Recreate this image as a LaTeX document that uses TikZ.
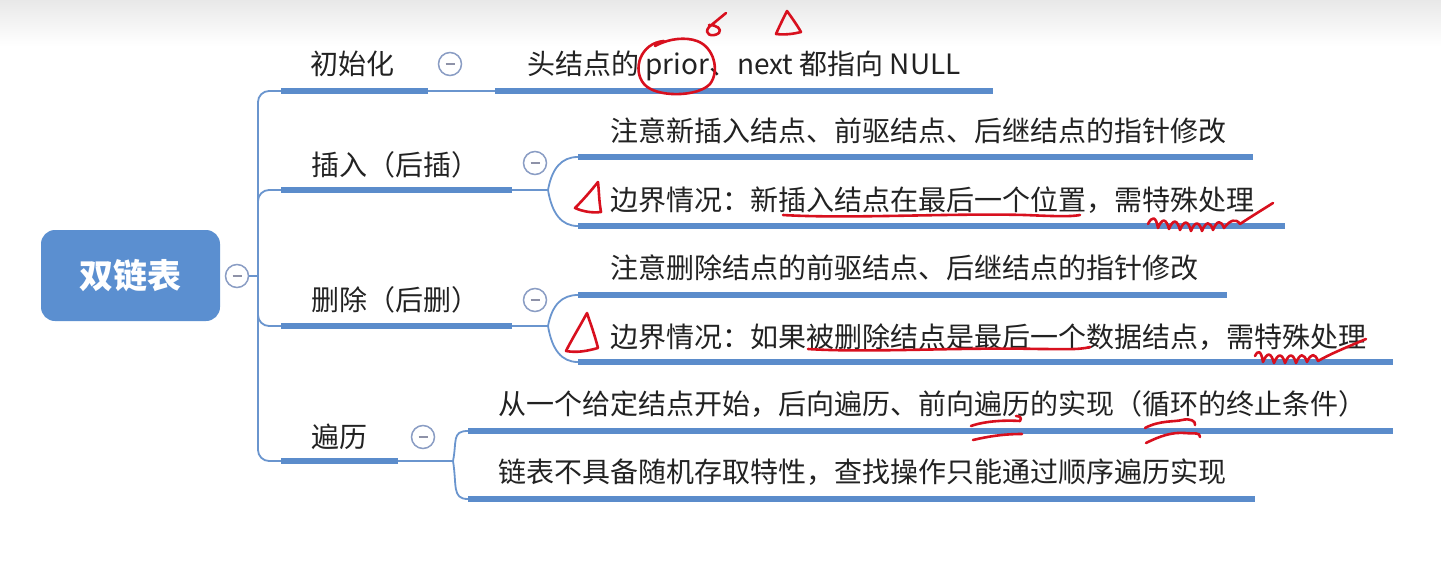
\documentclass[tikz,border=0pt]{standalone}
\usepackage{fontspec}
\setmainfont{Noto Sans CJK SC}
\usetikzlibrary{calc}
\definecolor{barblue}{HTML}{5B8CCB}
\definecolor{lineblue}{HTML}{6A95CE}
\definecolor{rootblue}{HTML}{5B8FD0}
\definecolor{circblue}{HTML}{8A9DC4}
\definecolor{minusgray}{HTML}{8E92A8}
\definecolor{txt}{HTML}{222222}
\definecolor{pen}{HTML}{D8101E}
\tikzset{
  bar/.style={rectangle, fill=barblue, draw=none, minimum height=5.5pt, inner sep=0pt},
  conn/.style={draw=lineblue, line width=1.8pt},
  lbl/.style={anchor=west, inner sep=0pt, text=txt, font=\fontsize{28}{33}\selectfont, text height=24.6pt, text depth=3.4pt},
  fold/.style={circle, draw=circblue, line width=1.5pt, fill=white, minimum size=23pt, inner sep=0pt,
    path picture={\draw[minusgray, line width=1.3pt] ([xshift=-4.5pt]path picture bounding box.center) -- ([xshift=4.5pt]path picture bounding box.center);}},
  rootbox/.style={rectangle, rounded corners=14pt, fill=rootblue, minimum width=179pt, minimum height=91pt, text=white, font=\fontsize{34}{40}\selectfont\bfseries},
  ink/.style={draw=pen, line width=2.6pt, line cap=round, line join=round}
}
\begin{document}
\begin{tikzpicture}[x=1pt, y=-1pt]
\useasboundingbox (0,0) rectangle (1441,573);
\shade[top color=black!9, bottom color=white] (0,0) rectangle (1441,46);

% root
\node[rootbox] (root) at (130.5,275.5) {双链表};
\node[fold] (c0) at (237,276) {};
\coordinate (j0) at (258,276);
\draw[conn] (c0) -- (j0);

% level-1 bars
\node[bar, minimum width=147pt] (b1) at (354.5,91) {};
\node[bar, minimum width=231pt] (b2) at (396.5,190) {};
\node[bar, minimum width=231pt] (b3) at (396.5,326) {};
\node[bar, minimum width=117pt] (b4) at (339.5,461) {};

\draw[conn, rounded corners=11pt] (j0) |- (b1.west);
\draw[conn, rounded corners=11pt] (j0) |- (b2.west);
\draw[conn, rounded corners=11pt] (j0) |- (b3.west);
\draw[conn, rounded corners=11pt] (j0) |- (b4.west);

% level-1 labels
\node[lbl] (t1) at (310,64) {初始化};
\node[lbl] (t2) at (311,165) {插入（后插）};
\node[lbl] (t3) at (311,300) {删除（后删）};
\node[lbl] (t4) at (311,437) {遍历};

% child bars
\node[bar, minimum width=498pt] (d1) at (744,91) {};
\node[bar, minimum width=675pt] (d2a) at (915.5,157) {};
\node[bar, minimum width=707pt] (d2b) at (931.5,226) {};
\node[bar, minimum width=649pt] (d3a) at (902.5,295) {};
\node[bar, minimum width=815pt] (d3b) at (985.5,362) {};
\node[bar, minimum width=925pt] (d4a) at (930.5,431) {};
\node[bar, minimum width=787pt] (d4b) at (861.5,499) {};

% connectors to children
\coordinate (k2) at (548,190);
\coordinate (k3) at (548,326);
\coordinate (k4) at (453,461);
\draw[conn] (b1.east) -- (d1.west);
\draw[conn] (b2.east) -- (k2);
\draw[conn] (b3.east) -- (k3);
\draw[conn] (b4.east) -- (k4);
\draw[conn] (k2) .. controls ($(k2)+(4,-22)$) and ($(d2a.west)+(-16,0)$) .. (d2a.west);
\draw[conn] (k2) .. controls ($(k2)+(4,24)$) and ($(d2b.west)+(-16,0)$) .. (d2b.west);
\draw[conn] (k3) .. controls ($(k3)+(4,-21)$) and ($(d3a.west)+(-16,0)$) .. (d3a.west);
\draw[conn] (k3) .. controls ($(k3)+(4,24)$) and ($(d3b.west)+(-16,0)$) .. (d3b.west);
\draw[conn] (k4) .. controls ($(k4)+(4,-20)$) and ($(d4a.west)+(-16,0)$) .. (d4a.west);
\draw[conn] (k4) .. controls ($(k4)+(4,24)$) and ($(d4b.west)+(-16,0)$) .. (d4b.west);

% fold circles
\node[fold] (c1) at (450,64) {};
\node[fold] (c2) at (535,163) {};
\node[fold] (c3) at (535,300) {};
\node[fold] (c4) at (423,437) {};

% child labels
\node[lbl] (s1) at (527,64) {头结点的 prior、next 都指向 NULL};
\node[lbl] (s2a) at (610,131) {注意新插入结点、前驱结点、后继结点的指针修改};
\node[lbl] (s2b) at (610,200) {边界情况：新插入结点在最后一个位置，需特殊处理};
\node[lbl] (s3a) at (610,268) {注意删除结点的前驱结点、后继结点的指针修改};
\node[lbl] (s3b) at (610,337) {边界情况：如果被删除结点是最后一个数据结点，需特殊处理};
\node[lbl] (s4a) at (498,404) {从一个给定结点开始，后向遍历、前向遍历的实现（循环的终止条件）};
\node[lbl] (s4b) at (498,472) {链表不具备随机存取特性，查找操作只能通过顺序遍历实现};

% red hand annotations
\draw[ink] (664,41) .. controls (640,43) and (632,70) .. (644,84)
  .. controls (656,98) and (698,97) .. (710,84)
  .. controls (720,71) and (714,47) .. (697,41)
  .. controls (686,37) and (670,38) .. (655,46);
\draw[ink] (726,13) -- (709,27) .. controls (703,34) and (712,38) .. (719,33)
  .. controls (722,29) and (717,25) .. (709,25);
\draw[ink] (787,11) .. controls (783,19) and (779,27) .. (776,34)
  .. controls (785,35) and (793,34) .. (801,32) .. controls (797,25) and (792,18) .. (787,11);
\draw[ink] (598,182) .. controls (590,192) and (582,201) .. (575,208)
  .. controls (584,212) and (593,213) .. (601,212) .. controls (599,201) and (599,191) .. (598,182);
\draw[ink] (587,313) .. controls (580,326) and (572,339) .. (566,351)
  .. controls (577,353) and (587,351) .. (598,348) .. controls (595,336) and (591,325) .. (587,313);
\draw[ink] (783,215) .. controls (850,219) and (950,213) .. (1025,215) .. controls (1050,216) and (1070,217) .. (1080,215);
\draw[ink] (1148,224) .. controls (1152,216) and (1156,216) .. (1158,228)
  .. controls (1162,218) and (1166,218) .. (1169,229)
  .. controls (1173,219) and (1177,219) .. (1180,230)
  .. controls (1184,220) and (1188,220) .. (1191,231)
  .. controls (1195,221) and (1199,221) .. (1202,231)
  .. controls (1206,221) and (1210,221) .. (1213,230)
  .. controls (1217,220) and (1221,220) .. (1224,228)
  .. controls (1230,220) and (1236,218) .. (1240,224)
  .. controls (1252,216) and (1262,210) .. (1273,203);
\draw[ink] (808,349) .. controls (870,353) and (960,347) .. (1040,349) .. controls (1060,349) and (1080,350) .. (1090,347);
\draw[ink] (1255,356) .. controls (1258,350) and (1261,350) .. (1263,362)
  .. controls (1267,352) and (1271,352) .. (1274,363)
  .. controls (1278,353) and (1282,353) .. (1285,363)
  .. controls (1289,353) and (1293,353) .. (1296,363)
  .. controls (1300,353) and (1304,353) .. (1307,362)
  .. controls (1311,353) and (1315,353) .. (1318,361)
  .. controls (1330,354) and (1345,348) .. (1366,339);
\draw[ink] (971,426) .. controls (985,421) and (1005,420) .. (1020,421) .. controls (1022,418) and (1020,416) .. (1016,416);
\draw[ink] (973,440) .. controls (990,436) and (1005,434) .. (1022,434);
\draw[ink] (1145,428) .. controls (1160,420) and (1175,422) .. (1182,420) .. controls (1190,418) and (1196,421) .. (1195,425);
\draw[ink] (1146,443) .. controls (1160,436) and (1172,432) .. (1185,433) .. controls (1195,434) and (1200,432) .. (1200,437);
\end{tikzpicture}
\end{document}
